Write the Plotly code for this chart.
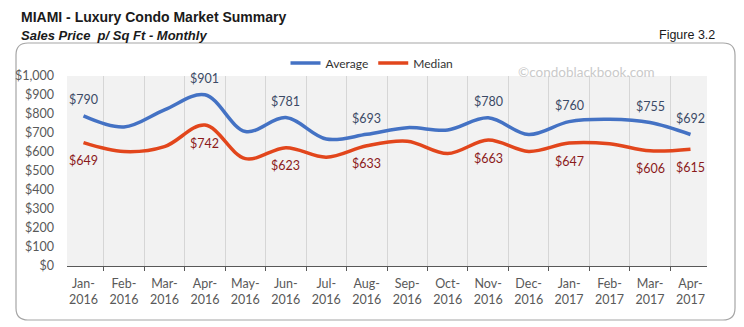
import plotly.graph_objects as go

months = ["Jan-<br>2016", "Feb-<br>2016", "Mar-<br>2016", "Apr-<br>2016", "May-<br>2016", "Jun-<br>2016",
          "Jul-<br>2016", "Aug-<br>2016", "Sep-<br>2016", "Oct-<br>2016", "Nov-<br>2016", "Dec-<br>2016",
          "Jan-<br>2017", "Feb-<br>2017", "Mar-<br>2017", "Apr-<br>2017"]
average = [790, 732, 822, 901, 708, 781, 668, 693, 728, 716, 780, 692, 760, 772, 755, 692]
median = [649, 602, 628, 742, 565, 623, 573, 633, 657, 592, 663, 603, 647, 643, 606, 615]
labeled_idx = [0, 3, 5, 7, 10, 12, 14, 15]
y_ticks = list(range(0, 1001, 100))
y_tick_text = ["$" + format(v, ",") for v in y_ticks]

BLUE = "#4472C4"
RED = "#E2461C"
W, H = 744, 327
L, R, T, B = 67, 37, 76, 61
pw, ph = W - L - R, H - T - B

def px(x):
    return (x - L) / pw

def py(y):
    return (H - B - y) / ph

fig = go.Figure()
fig.add_trace(go.Scatter(x=months, y=average, name="Average", mode="lines",
                         line=dict(color=BLUE, width=3.5, shape="spline", smoothing=1.0)))
fig.add_trace(go.Scatter(x=months, y=median, name="Median", mode="lines",
                         line=dict(color=RED, width=3.5, shape="spline", smoothing=1.0)))

annotations = []
for i in labeled_idx:
    annotations.append(dict(x=months[i], y=average[i], text="$" + str(average[i]), showarrow=False,
                            yshift=16, font=dict(family="Lato", size=12.5, color="#3B4A66")))
    annotations.append(dict(x=months[i], y=median[i], text="$" + str(median[i]), showarrow=False,
                            yshift=-18, font=dict(family="Lato", size=12.5, color="#8B1A1A")))

annotations += [
    dict(xref="paper", yref="paper", x=px(19), y=py(17), xanchor="left", yanchor="middle",
         text="<b>MIAMI - Luxury Condo Market Summary</b>", showarrow=False,
         font=dict(family="Liberation Sans", size=14, color="#1a1a1a")),
    dict(xref="paper", yref="paper", x=px(19), y=py(35), xanchor="left", yanchor="middle",
         text="<b><i>Sales Price  p/ Sq Ft - Monthly</i></b>", showarrow=False,
         font=dict(family="Liberation Sans", size=13, color="#1a1a1a")),
    dict(xref="paper", yref="paper", x=px(717), y=py(35), xanchor="right", yanchor="middle",
         text="Figure 3.2", showarrow=False,
         font=dict(family="Liberation Sans", size=12.5, color="#1a1a1a")),
    dict(xref="paper", yref="paper", x=px(586), y=py(72), xanchor="center", yanchor="middle",
         text="©condoblackbook.com", showarrow=False,
         font=dict(family="Lato", size=13.5, color="#CACACA")),
]

# rounded border
x0, x1, y0, y1, r = 16, 735, 43, 320, 12
path = (f"M {px(x0 + r)},{py(y0)} L {px(x1 - r)},{py(y0)} "
        f"Q {px(x1)},{py(y0)} {px(x1)},{py(y0 + r)} L {px(x1)},{py(y1 - r)} "
        f"Q {px(x1)},{py(y1)} {px(x1 - r)},{py(y1)} L {px(x0 + r)},{py(y1)} "
        f"Q {px(x0)},{py(y1)} {px(x0)},{py(y1 - r)} L {px(x0)},{py(y0 + r)} "
        f"Q {px(x0)},{py(y0)} {px(x0 + r)},{py(y0)} Z")

fig.update_layout(
    width=W, height=H,
    margin=dict(l=L, r=R, t=T, b=B),
    paper_bgcolor="white",
    plot_bgcolor="#F2F2F2",
    font=dict(family="Lato", size=12, color="#595959"),
    showlegend=True,
    legend=dict(orientation="h", x=px(372), xanchor="center", y=py(63), yanchor="middle",
                font=dict(family="Lato", size=12, color="#333333"), itemwidth=30,
                bgcolor="rgba(0,0,0,0)"),
    annotations=annotations,
    shapes=[dict(type="path", xref="paper", yref="paper", path=path,
                 line=dict(color="#A6A6A6", width=1.2), layer="below")],
    xaxis=dict(type="category", tickson="boundaries", showgrid=True, gridcolor="#D6D6D6", gridwidth=1,
               showline=True, linecolor="#595959", linewidth=1, ticks="outside", ticklen=4,
               tickcolor="#595959", tickfont=dict(family="Lato", size=12.5, color="#595959"),
               ticklabelstandoff=6, fixedrange=True),
    yaxis=dict(range=[0, 1000], tickvals=y_ticks, ticktext=y_tick_text, showgrid=False,
               zeroline=False, showline=False, ticks="", ticklabelstandoff=12,
               tickfont=dict(family="Lato", size=12.5, color="#595959"), fixedrange=True),
)

fig.write_html("out.html")
